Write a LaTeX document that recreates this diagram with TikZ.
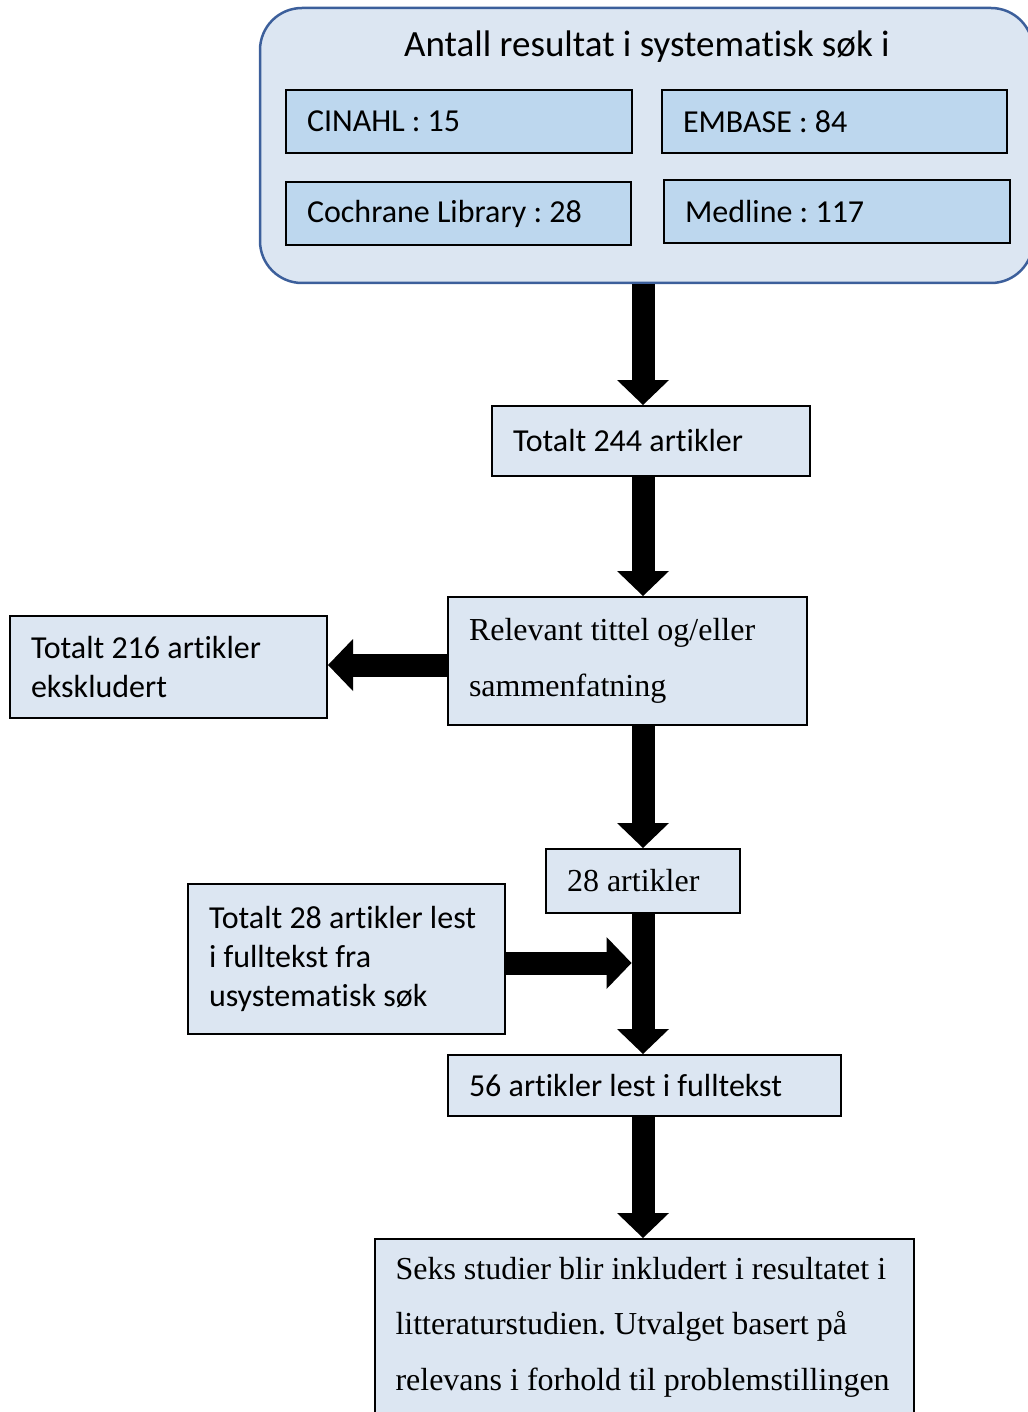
\documentclass[tikz,border=0pt]{standalone}
\usepackage{fontspec}
\setmainfont{Liberation Serif}
\newfontfamily\calibrifont{Carlito}[Ligatures=NoCommon]
\usetikzlibrary{positioning, arrows.meta, calc}
\definecolor{boxfill}{RGB}{220,230,242}
\definecolor{dbfill}{RGB}{189,215,238}
\definecolor{frameblue}{RGB}{60,95,155}

\begin{document}
\begin{tikzpicture}[x=1pt, y=-1pt,
    frame/.style={draw=frameblue, line width=2.5pt, fill=boxfill, rounded corners=42pt},
    boxsize/.style 2 args={text width=#1, minimum height=#2},
    plainspaces/.style={execute at begin node={\frenchspacing\spaceskip=0pt\xspaceskip=0pt\relax}},
    dbbox/.style={draw, line width=1.5pt, fill=dbfill, inner xsep=21pt, inner ysep=0pt,
        align=left, plainspaces, font=\calibrifont\fontsize{32}{39}\selectfont},
    stepbox/.style={draw, line width=2pt, fill=boxfill, inner xsep=21pt, inner ysep=0pt,
        align=left, plainspaces},
    sansbox/.style={stepbox, font=\calibrifont\fontsize{32}{39}\selectfont},
    serifbox/.style={stepbox, font=\fontsize{32}{55.5}\selectfont},
    bigarrow/.style={line width=23pt, -{Triangle[width=52pt, length=25pt, line width=0pt]}}]
    \useasboundingbox (0,0) rectangle (1027,1412);
    % search databases
    \node[frame, minimum width=773pt, minimum height=275pt] (search) at (646.5,145.5) {};
    \node[font=\calibrifont\fontsize{37}{44}\selectfont, anchor=base] (title) at (647,57)
        {Antall resultat i systematisk søk i};
    \node[dbbox, boxsize={304pt}{63pt}] (cinahl) at (459,121.5) {CINAHL : 15};
    \node[dbbox, boxsize={303pt}{63pt}] (embase) at (834.5,121.5) {EMBASE : 84};
    \node[dbbox, boxsize={303pt}{63pt}] (cochrane) at (458.5,213.5) {Cochrane Library : 28};
    \node[dbbox, boxsize={304pt}{63pt}] (medline) at (837,211.5) {Medline : 117};
    % screening steps
    \node[sansbox, boxsize={276pt}{70pt}] (total) at (651,441) {Totalt 244 artikler};
    \node[serifbox, boxsize={317pt}{128pt}] (relevant) at (627.5,661)
        {Relevant tittel og/eller\\ sammenfatning};
    \node[sansbox, boxsize={275pt}{102pt}] (excluded) at (168.5,667)
        {Totalt 216 artikler\\ ekskludert};
    \node[serifbox, boxsize={152pt}{64pt}] (art28) at (643,881) {28 artikler};
    \node[sansbox, boxsize={275pt}{150pt}] (manual) at (346.5,959)
        {Totalt 28 artikler lest\\ i fulltekst fra\\ usystematisk søk};
    \node[sansbox, boxsize={351pt}{61pt}] (fulltext) at (644.5,1085.5) {56 artikler lest i fulltekst};
    \node[serifbox, boxsize={497pt}{0pt}, inner ysep=18pt, anchor=north] (included) at (644,1238)
        {Seks studier blir inkludert i resultatet i\\ litteraturstudien. Utvalget basert på\\
         relevans i forhold til problemstillingen\par\vspace*{40pt}};
    % arrows
    \coordinate (spine) at (643,0);
    \draw[bigarrow] (search.south -| spine) -- (total.north -| spine);
    \draw[bigarrow] (total.south -| spine) -- (relevant.north -| spine);
    \draw[bigarrow] ([yshift=-4pt]relevant.west) -- ([yshift=-4pt]relevant.west -| excluded.east);
    \draw[bigarrow] (relevant.south -| spine) -- (art28.north -| spine);
    \draw[bigarrow] (art28.south -| spine) -- (fulltext.north -| spine);
    \draw[bigarrow] ([yshift=-4pt]manual.east) -- ($([yshift=-4pt]manual.east -| spine)+(-11.5,0)$);
    \draw[bigarrow] (fulltext.south -| spine) -- (included.north -| spine);
\end{tikzpicture}
\end{document}
